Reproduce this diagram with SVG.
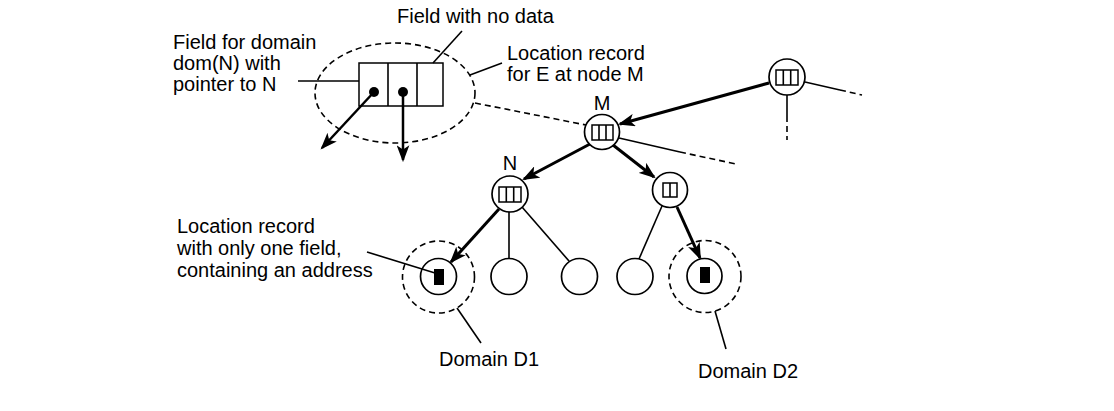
<svg xmlns="http://www.w3.org/2000/svg" width="1114" height="411" viewBox="0 0 1114 411">
<style>
text{font-family:"Liberation Sans",Arial,sans-serif;font-size:20px;fill:#000}
.lbl{text-anchor:middle}
.thin{stroke:#000;stroke-width:1.6;fill:none}
.thick{stroke:#000;stroke-width:3;fill:none;marker-end:url(#ah)}
.ptr{stroke:#000;stroke-width:2.5;fill:none;marker-end:url(#ah)}
.dash{stroke:#000;stroke-width:1.6;fill:none;stroke-dasharray:6 4}
.node{fill:#fff;stroke:#000;stroke-width:1.7}
.rec{fill:#fff;stroke:#000;stroke-width:1.5}
</style>
<defs>
<marker id="ah" viewBox="0 0 16 12" refX="14" refY="6" markerWidth="17" markerHeight="13" markerUnits="userSpaceOnUse" orient="auto">
<path d="M0,0 L16,6 L0,12 L4,6 Z" fill="#000"/>
</marker>
</defs>
<rect width="1114" height="411" fill="#fff"/>

<g id="connectors">
<line class="dash" x1="475" y1="103" x2="586" y2="125"/>
<line class="thin" x1="619" y1="138" x2="680" y2="152"/>
<line class="dash" x1="680" y1="152" x2="736" y2="164"/>
<line class="thin" x1="805" y1="82" x2="840" y2="90"/>
<line class="dash" x1="840" y1="90" x2="862" y2="95" stroke-dasharray="4 6 8 0"/>
<line class="thin" x1="787" y1="95" x2="787" y2="116"/>
<line class="dash" x1="787" y1="116" x2="787" y2="140" stroke-dasharray="0 5 7 5 3 0"/>
<line class="thick" x1="769" y1="83" x2="620" y2="124"/>
<line class="thick" x1="590" y1="144" x2="524" y2="179"/>
<line class="thick" x1="613" y1="145" x2="654" y2="177"/>
<line class="thick" x1="499" y1="209" x2="451" y2="262"/>
<line class="thin" x1="509" y1="212" x2="509" y2="258"/>
<line class="thin" x1="522" y1="207" x2="569" y2="261"/>
<line class="thin" x1="662" y1="206" x2="639" y2="259"/>
<line class="thick" x1="677" y1="207" x2="700" y2="258"/>
</g>

<g id="record-detail">
<ellipse class="dash" cx="395" cy="93" rx="80" ry="50"/>
<rect class="rec" x="359" y="63" width="84" height="43"/>
<line class="thin" x1="388" y1="63" x2="388" y2="106"/>
<line class="thin" x1="417" y1="63" x2="417" y2="106"/>
<circle cx="374" cy="92" r="5" fill="#000"/>
<circle cx="403" cy="92" r="5" fill="#000"/>
<line class="ptr" x1="374" y1="92" x2="322" y2="148"/>
<line class="ptr" x1="403" y1="92" x2="403" y2="160"/>
<line class="thin" x1="298" y1="81" x2="359" y2="81"/>
<line class="thin" x1="462" y1="31" x2="433" y2="63"/>
<line class="thin" x1="470" y1="75" x2="502" y2="63"/>
</g>

<g id="node-top-right">
<circle class="node" cx="787" cy="77" r="18"/>
<rect class="rec" x="776" y="70" width="22" height="15"/>
<line class="thin" x1="783.3" y1="70" x2="783.3" y2="85"/>
<line class="thin" x1="790.7" y1="70" x2="790.7" y2="85"/>
</g>

<g id="node-M">
<circle class="node" cx="602" cy="132" r="17.5"/>
<rect class="rec" x="592" y="125" width="21" height="15"/>
<line class="thin" x1="599" y1="125" x2="599" y2="140"/>
<line class="thin" x1="606" y1="125" x2="606" y2="140"/>
<text class="lbl" x="602" y="110">M</text>
</g>

<g id="node-N">
<circle class="node" cx="510" cy="194" r="18"/>
<rect class="rec" x="499" y="187" width="22" height="15"/>
<line class="thin" x1="506.3" y1="187" x2="506.3" y2="202"/>
<line class="thin" x1="513.7" y1="187" x2="513.7" y2="202"/>
<text class="lbl" x="510" y="170">N</text>
</g>

<g id="node-R">
<circle class="node" cx="670" cy="190" r="17.5"/>
<rect class="rec" x="663" y="183" width="14" height="14"/>
<line class="thin" x1="670" y1="183" x2="670" y2="197"/>
</g>

<g id="leaf-1">
<circle class="dash" cx="438.5" cy="277" r="36"/>
<circle class="node" cx="438.5" cy="276.5" r="18"/>
<rect x="434" y="269" width="10" height="16" fill="#000"/>
</g>
<g id="leaf-2"><circle class="node" cx="509" cy="276.5" r="18"/></g>
<g id="leaf-3"><circle class="node" cx="579.5" cy="276.5" r="18"/></g>
<g id="leaf-4"><circle class="node" cx="635" cy="276.5" r="18"/></g>
<g id="leaf-5">
<circle class="dash" cx="705" cy="276.5" r="36"/>
<circle class="node" cx="704.5" cy="276" r="17.5"/>
<rect x="700" y="267" width="10" height="16" fill="#000"/>
</g>

<g id="labels">
<text x="397" y="23">Field with no data</text>
<text x="173" y="49">Field for domain</text>
<text x="173" y="70">dom(N) with</text>
<text x="173" y="91">pointer to N</text>
<text x="507" y="60">Location record</text>
<text x="507" y="81">for E at node M</text>
<text x="177" y="233">Location record</text>
<text x="177" y="255">with only one field,</text>
<text x="177" y="277">containing an address</text>
<line class="thin" x1="367" y1="252" x2="435" y2="273"/>
<text x="439" y="366">Domain D1</text>
<line class="thin" x1="457" y1="308" x2="481" y2="343"/>
<text x="698" y="378">Domain D2</text>
<line class="thin" x1="715" y1="311" x2="726" y2="349"/>
</g>
</svg>
